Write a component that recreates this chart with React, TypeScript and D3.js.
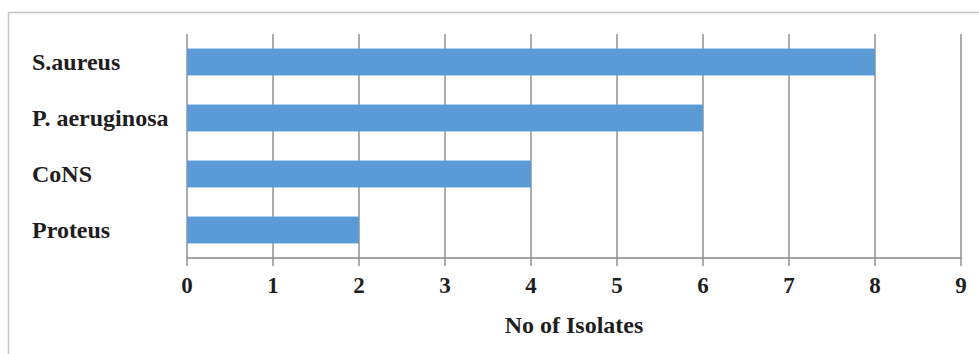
import React from "react";
import * as d3 from "d3";

const categories = ["S.aureus", "P. aeruginosa", "CoNS", "Proteus"];
const isolates = [8, 6, 4, 2];
const xTicks = [0, 1, 2, 3, 4, 5, 6, 7, 8, 9];
const xTitle = "No of Isolates";

const W = 979;
const H = 354;
const M = { left: 187, right: 961, top: 34, bottom: 258 };
const FONT = "'Liberation Serif', 'Times New Roman', serif";

export default function App() {
  const x = d3.scaleLinear().domain([0, 9]).range([M.left, M.right]);
  const y = d3
    .scaleBand<string>()
    .domain(categories)
    .range([M.top, M.bottom])
    .paddingInner(0.52)
    .paddingOuter(0.26);

  return (
    <svg
      width={W}
      height={H}
      style={{ position: "absolute", left: 0, top: 0, background: "#fff" }}
    >
      {/* frame */}
      <line x1={8.5} x2={W} y1={12.5} y2={12.5} stroke="#c4c4c4" strokeWidth={1.5} />
      <line x1={8.5} x2={8.5} y1={12.5} y2={H} stroke="#c4c4c4" strokeWidth={1.5} />

      {/* vertical gridlines */}
      {xTicks.map((t) => (
        <line
          key={"g" + t}
          x1={x(t)}
          x2={x(t)}
          y1={M.top}
          y2={M.bottom + 8}
          stroke="#8a8a8a"
          strokeWidth={1.4}
        />
      ))}

      {/* bars */}
      {categories.map((c, i) => (
        <rect
          key={c}
          x={x(0)}
          y={y(c)}
          width={x(isolates[i]) - x(0)}
          height={y.bandwidth()}
          fill="#5b9bd5"
        />
      ))}

      {/* x axis line */}
      <line x1={x(0)} x2={x(9)} y1={M.bottom} y2={M.bottom} stroke="#8a8a8a" strokeWidth={1.4} />

      {/* category labels */}
      {categories.map((c) => (
        <text
          key={"l" + c}
          x={32}
          y={(y(c) as number) + y.bandwidth() / 2 + 8}
          fontFamily={FONT}
          fontWeight="bold"
          fontSize={24}
          fill="#1e1e1e"
        >
          {c}
        </text>
      ))}

      {/* tick labels */}
      {xTicks.map((t) => (
        <text
          key={"t" + t}
          x={x(t)}
          y={293}
          textAnchor="middle"
          fontFamily={FONT}
          fontWeight="bold"
          fontSize={23}
          fill="#1e1e1e"
        >
          {t}
        </text>
      ))}

      {/* axis title */}
      <text
        x={(M.left + M.right) / 2}
        y={333}
        textAnchor="middle"
        fontFamily={FONT}
        fontWeight="bold"
        fontSize={24}
        fill="#1e1e1e"
      >
        {xTitle}
      </text>
    </svg>
  );
}
